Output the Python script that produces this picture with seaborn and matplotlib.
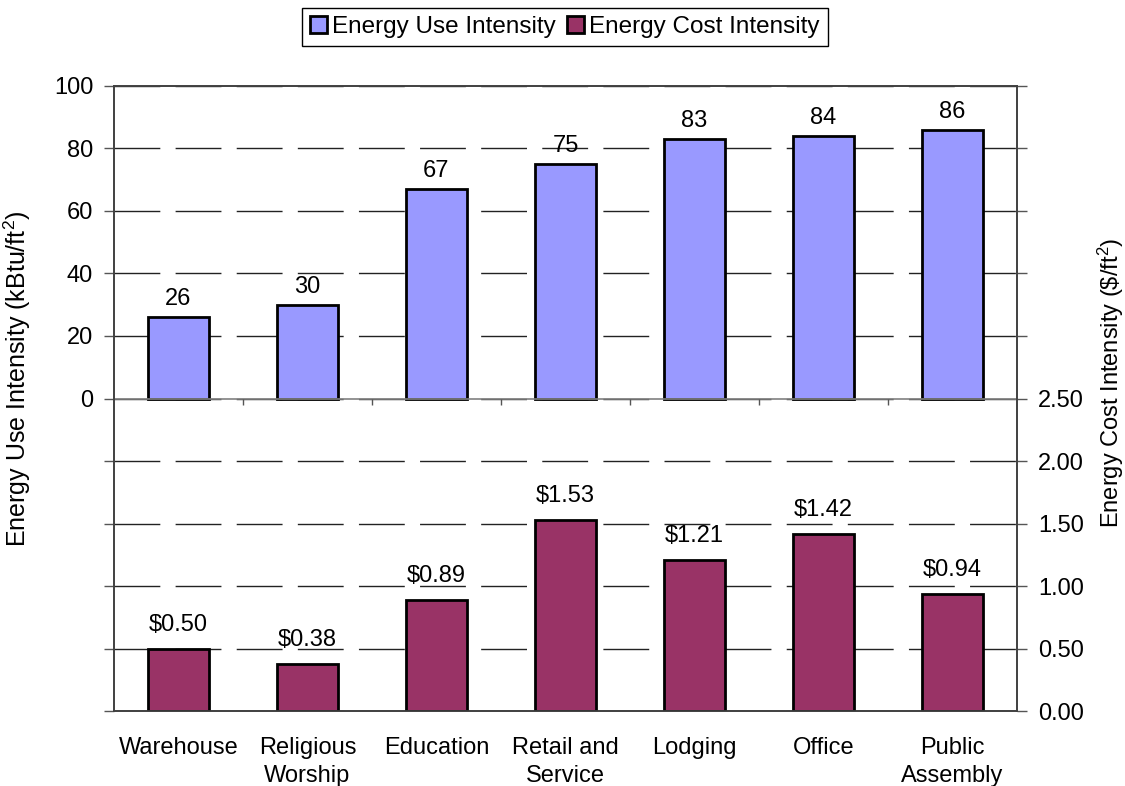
import numpy as np
import pandas as pd
import matplotlib
matplotlib.use("Agg")
import matplotlib.pyplot as plt
import seaborn as sns

# datos
categorias = ["Warehouse", "Religious\nWorship", "Education", "Retail and\nService",
              "Lodging", "Office", "Public\nAssembly"]
uso_energia = [26, 30, 67, 75, 83, 84, 86]          # kBtu/ft2
costo_energia = [0.50, 0.38, 0.89, 1.53, 1.21, 1.42, 0.94]  # $/ft2

eui_ticks = list(range(-100, 101, 20))
costo_ticks = [i * 0.5 for i in range(11)]

df = pd.DataFrame({"categoria": categorias, "eui": uso_energia, "costo": costo_energia})

sns.set_style("white")
plt.rcParams["font.family"] = ["Liberation Sans", "DejaVu Sans"]
plt.rcParams["mathtext.fontset"] = "custom"
plt.rcParams["mathtext.rm"] = "Liberation Sans"
plt.rcParams["mathtext.it"] = "Liberation Sans:italic"
plt.rcParams["font.size"] = 17
for k in ["text.color", "axes.labelcolor", "xtick.labelcolor", "ytick.labelcolor"]:
    plt.rcParams[k] = "black"

fig = plt.figure(figsize=(11.25, 7.86), dpi=100)
ax = fig.add_axes([0.1013, 0.0954, 0.8027, 0.7952])

azul = "#9999FF"
morado = "#993366"

sns.barplot(data=df, x="categoria", y="eui", ax=ax, color=azul, saturation=1,
            edgecolor="black", linewidth=2, width=0.47)
ax.set_ylim(-100, 100)
ax.set_yticks(eui_ticks)
ax.set_yticklabels([str(t) if t >= 0 else "" for t in eui_ticks])
ax.set_axisbelow(True)
ax.yaxis.grid(True, color="#222222", linewidth=1, linestyle=(0, (33, 11)))
ax.axhline(0, color="#808080", linewidth=1.2, zorder=1)
# pequeñas marcas de categoria sobre la linea cero
ax.vlines(np.arange(1, len(categorias)) - 0.5, -2, 0, color="#555555", linewidth=1)

ax2 = ax.twinx()
sns.barplot(data=df, x="categoria", y="costo", ax=ax2, color=morado, saturation=1,
            edgecolor="black", linewidth=2, width=0.47)
ax2.set_ylim(0, 5)
ax2.set_yticks(costo_ticks)
ax2.set_yticklabels([f"{t:.2f}" if t <= 2.5 else "" for t in costo_ticks])

ax.set_xlim(-0.5, len(categorias) - 0.5)
ax.set_xlabel("")
ax2.set_xlabel("")
ax.tick_params(axis="x", length=0, pad=19)
ax.tick_params(axis="y", direction="out", length=7, width=1, color="#555555", pad=8, left=True)
ax2.tick_params(axis="y", direction="out", length=7, width=1, color="#555555", pad=8, right=True)
for t in ax.get_xticklabels():
    t.set_linespacing(1.3)

for a in (ax, ax2):
    for s in a.spines.values():
        s.set_visible(True)
        s.set_color("#404040")
        s.set_linewidth(1.2)

ax.set_ylabel("Energy Use Intensity (kBtu/ft$^2$)", fontsize=18)
ax2.set_ylabel(r"Energy Cost Intensity (\$/ft$^2$)", fontsize=17)
ax.yaxis.set_label_coords(-0.09, 0.532)
ax2.yaxis.set_label_coords(1.087, 0.525)

ax.bar_label(ax.containers[0], fmt="%g", padding=5)
ax2.bar_label(ax2.containers[0], labels=[f"${v:.2f}" for v in costo_energia], padding=9)

fig.legend([ax.containers[0][0], ax2.containers[0][0]],
           ["Energy Use Intensity", "Energy Cost Intensity"],
           loc="upper center", bbox_to_anchor=(0.502, 0.99), ncol=2, fontsize=17.5,
           frameon=True, fancybox=False, edgecolor="black", framealpha=1,
           handlelength=0.7, handleheight=0.7, handletextpad=0.2,
           columnspacing=0.5, borderpad=0.33, borderaxespad=0)

fig.savefig("out.png", dpi=100)
